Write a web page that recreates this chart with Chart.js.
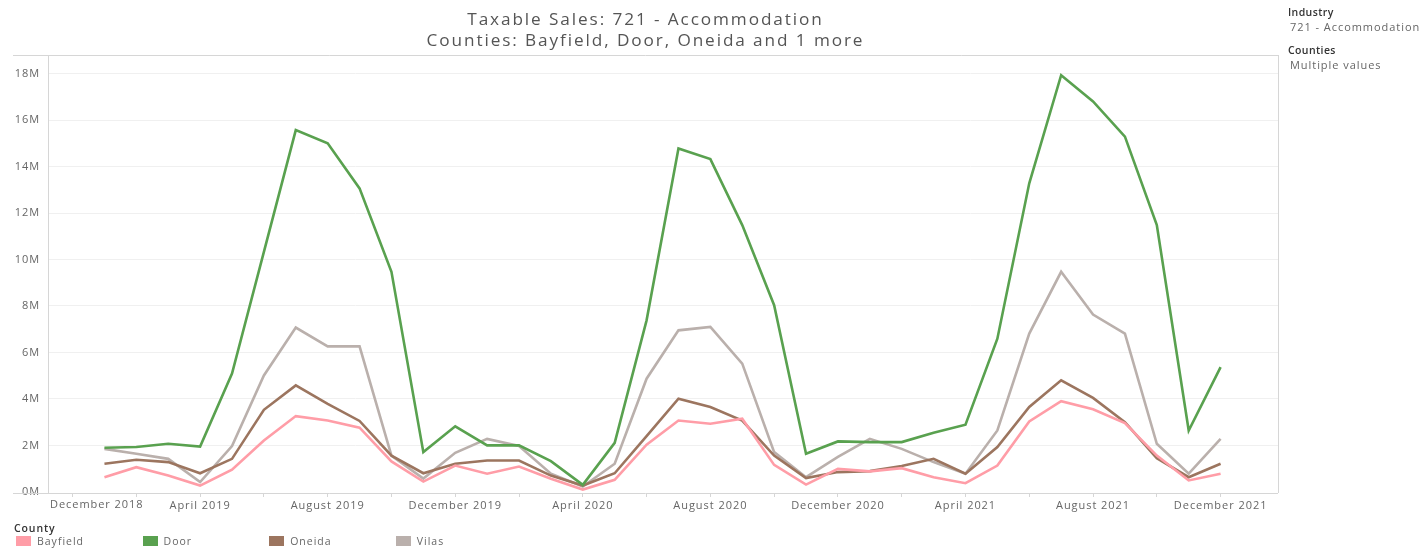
<!DOCTYPE html>
<html>
<head>
<meta charset="utf-8">
<title>Taxable Sales: 721 - Accommodation</title>
<script src="https://cdn.jsdelivr.net/npm/chart.js@4.4.1/dist/chart.umd.min.js"></script>
<style>
    body { margin: 0; background: #fff; font-family: 'Open Sans', sans-serif; }
    #wrap { position: relative; width: 1422px; height: 548px; overflow: hidden; }
    #box_grafico { position: absolute; left: 0; top: 0; width: 1422px; height: 548px; }
    .titulo { position: absolute; left: 13px; width: 1265px; text-align: center; color: #555; font-size: 17.2px; letter-spacing: 1.9px; line-height: 21px; white-space: nowrap; }
    .painel { position: absolute; left: 1288px; font-size: 10.5px; white-space: nowrap; }
    .painel .cab { color: #333; font-weight: 600; letter-spacing: 0.4px; }
    .painel .val { color: #666; padding-left: 2px; font-size: 11px; letter-spacing: 0.95px; }
    .legenda_tit { position: absolute; left: 14px; top: 521px; font-size: 10.5px; color: #333; font-weight: 600; letter-spacing: 0.9px; }
    .item { position: absolute; top: 535px; font-size: 10.5px; color: #666; letter-spacing: 1px; line-height: 12px; white-space: nowrap; }
    .item span { display: inline-block; width: 15px; height: 10px; vertical-align: -1px; margin-right: 6px; }
</style>
</head>
<body>
<div id="wrap">
    <div id="box_grafico"><canvas id="grafico_vendas"></canvas></div>
    <div class="titulo" style="top:8px">Taxable Sales: 721 - Accommodation</div>
    <div class="titulo" style="top:29px">Counties: Bayfield, Door, Oneida and 1 more</div>

    <div class="painel" style="top:5px"><div class="cab">Industry</div><div class="val">721 - Accommodation</div></div>
    <div class="painel" style="top:43px"><div class="cab">Counties</div><div class="val">Multiple values</div></div>

    <div class="legenda_tit">County</div>
    <div id="legenda"></div>
</div>
<script>
    // Meses (jan 2019 .. dez 2021), x = posição do mês a partir de dezembro 2018
    const meses = [
        'Jan 2019', 'Feb 2019', 'Mar 2019', 'Apr 2019', 'May 2019', 'Jun 2019', 'Jul 2019', 'Aug 2019', 'Sep 2019', 'Oct 2019', 'Nov 2019', 'Dec 2019',
        'Jan 2020', 'Feb 2020', 'Mar 2020', 'Apr 2020', 'May 2020', 'Jun 2020', 'Jul 2020', 'Aug 2020', 'Sep 2020', 'Oct 2020', 'Nov 2020', 'Dec 2020',
        'Jan 2021', 'Feb 2021', 'Mar 2021', 'Apr 2021', 'May 2021', 'Jun 2021', 'Jul 2021', 'Aug 2021', 'Sep 2021', 'Oct 2021', 'Nov 2021', 'Dec 2021'
    ];

    // Vendas em milhões
    const bayfield = [0.63, 1.06, 0.70, 0.27, 0.95, 2.21, 3.26, 3.07, 2.76, 1.31, 0.44, 1.13,
                      0.78, 1.09, 0.56, 0.10, 0.52, 2.03, 3.07, 2.93, 3.15, 1.16, 0.31, 0.99,
                      0.88, 1.02, 0.63, 0.37, 1.13, 3.03, 3.90, 3.55, 2.96, 1.56, 0.49, 0.78];
    const door     = [1.90, 1.93, 2.07, 1.95, 5.09, 10.33, 15.57, 15.00, 13.06, 9.47, 1.71, 2.82,
                      2.00, 2.00, 1.32, 0.30, 2.11, 7.38, 14.78, 14.32, 11.48, 8.03, 1.64, 2.17,
                      2.14, 2.14, 2.54, 2.89, 6.59, 13.28, 17.93, 16.80, 15.29, 11.48, 2.64, 5.37];
    const oneida   = [1.21, 1.38, 1.28, 0.80, 1.42, 3.53, 4.58, 3.79, 3.05, 1.56, 0.80, 1.21,
                      1.35, 1.35, 0.70, 0.27, 0.80, 2.40, 4.01, 3.65, 3.07, 1.56, 0.59, 0.85,
                      0.89, 1.11, 1.42, 0.78, 1.93, 3.65, 4.80, 4.04, 3.00, 1.45, 0.63, 1.21];
    const vilas    = [1.85, 1.64, 1.42, 0.42, 1.97, 5.01, 7.07, 6.26, 6.26, 1.56, 0.57, 1.68,
                      2.28, 1.97, 0.78, 0.23, 1.21, 4.87, 6.95, 7.10, 5.52, 1.71, 0.63, 1.50,
                      2.28, 1.85, 1.28, 0.78, 2.64, 6.81, 9.47, 7.63, 6.81, 2.07, 0.78, 2.28];

    const condados = ['Bayfield', 'Door', 'Oneida', 'Vilas'];
    const cores = ['#ff9da7', '#59a14f', '#9c755f', '#bab0ac'];

    // Rótulos do eixo x (a cada 4 meses a partir de dezembro 2018) e eixo y
    const rotulosX = ['December 2018', 'April 2019', 'August 2019', 'December 2019', 'April 2020',
                      'August 2020', 'December 2020', 'April 2021', 'August 2021', 'December 2021'];
    const ticksY = [0, 2, 4, 6, 8, 10, 12, 14, 16, 18];

    const corBorda = '#d6d6d6';
    const espacoLetras = '0.95px';

    // Legenda em html
    const legenda = document.getElementById('legenda');
    condados.forEach((nome, i) => {
        const el = document.createElement('div');
        el.className = 'item';
        el.style.left = (16 + i * 126.6) + 'px';
        el.innerHTML = `<span style="background:${cores[i]}"></span>${nome}`;
        legenda.appendChild(el);
    });

    // Bordas do painel no estilo tableau + rótulo de dezembro 2018 encostado à esquerda
    const pluginBordas = {
        id: 'bordas',
        beforeDraw(chart) {
            chart.ctx.letterSpacing = espacoLetras;
        },
        beforeDatasetsDraw(chart) {
            const { ctx, chartArea: a } = chart;
            ctx.save();
            ctx.strokeStyle = corBorda;
            ctx.lineWidth = 1;
            ctx.beginPath();
            ctx.moveTo(13, a.top + 0.5); ctx.lineTo(a.right, a.top + 0.5);
            ctx.moveTo(13, a.bottom + 0.5); ctx.lineTo(a.right, a.bottom + 0.5);
            ctx.moveTo(a.right + 0.5, a.top); ctx.lineTo(a.right + 0.5, a.bottom);
            ctx.moveTo(a.left + 0.5, a.top); ctx.lineTo(a.left + 0.5, a.bottom);
            ctx.stroke();
            ctx.restore();
        },
        afterDraw(chart) {
            const { ctx, chartArea: a } = chart;
            ctx.save();
            ctx.font = "11px 'Open Sans', sans-serif";
            ctx.letterSpacing = espacoLetras;
            ctx.fillStyle = '#666';
            ctx.textAlign = 'left';
            ctx.textBaseline = 'middle';
            ctx.fillText(rotulosX[0], a.left + 2, a.bottom + 12);
            ctx.restore();
        }
    };

    Chart.defaults.font.family = "'Open Sans', sans-serif";
    Chart.defaults.font.size = 11;
    Chart.defaults.color = '#666';

    const ctxVendas = document.getElementById('grafico_vendas').getContext('2d');
    const graficoVendas = new Chart(ctxVendas, {
        type: 'line',
        data: {
            datasets: [bayfield, door, oneida, vilas].map((serie, i) => ({
                label: condados[i],
                data: serie.map((v, j) => ({ x: j + 1, y: v * 1e6 })),
                borderColor: cores[i],
                backgroundColor: cores[i],
                borderWidth: 2.6,
                pointRadius: 0,
                tension: 0
            }))
        },
        options: {
            responsive: true,
            maintainAspectRatio: false,
            animation: false,
            layout: { padding: { left: 13, right: 144, top: 55, bottom: 33 } },
            plugins: { legend: { display: false }, title: { display: false }, tooltip: { enabled: false } },
            scales: {
                x: {
                    type: 'linear',
                    min: -0.77,
                    max: 37.8,
                    afterBuildTicks: (scale) => {
                        scale.ticks = rotulosX.flatMap((_, i) => [{ value: i * 4 }, { value: i * 4 + 2 }])
                            .filter(t => t.value <= 36);
                    },
                    afterFit: (scale) => { scale.height = 22; },
                    border: { display: false },
                    grid: { drawOnChartArea: false, drawTicks: true, tickLength: 4, color: corBorda },
                    ticks: {
                        autoSkip: false,
                        maxRotation: 0,
                        padding: 2,
                        color: (c) => c.index === 0 ? 'rgba(0,0,0,0)' : '#666',
                        callback: (v) => v % 4 === 0 ? rotulosX[v / 4] : ''
                    }
                },
                y: {
                    min: -50000,
                    max: 18.8e6,
                    afterBuildTicks: (scale) => { scale.ticks = ticksY.map(v => ({ value: v * 1e6 })); },
                    afterFit: (scale) => { scale.width = 35; },
                    border: { display: false },
                    grid: { color: (c) => c.tick && c.tick.value === 0 ? 'rgba(0,0,0,0)' : '#f0f0f0', drawTicks: false },
                    ticks: {
                        padding: 8,
                        callback: (v) => (v / 1e6) + 'M'
                    }
                }
            }
        },
        plugins: [pluginBordas]
    });
</script>
</body>
</html>
